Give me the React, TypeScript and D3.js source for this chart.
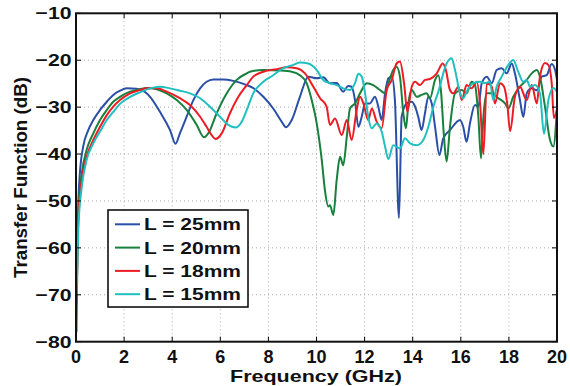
import * as d3 from "d3";

// frequency (GHz), transfer function (dB)
const L25: [number, number][] = [
  [0.02, -66], [0.1, -49.8], [0.17, -43.4], [0.3, -38.4], [0.51, -34.9], [0.72, -32.75], [1.0, -30.6],
  [1.28, -28.85], [1.55, -27.4], [1.83, -26.5], [2.11, -26.0], [2.52, -26.1], [2.66, -26.2], [3.08, -27.8],
  [3.49, -31.0], [3.91, -34.9], [4.14, -37.8], [4.32, -35.6], [4.6, -32.05], [4.88, -28.5], [5.16, -26.0],
  [5.43, -24.6], [5.71, -24.1], [6.12, -24.1], [6.54, -24.4], [7.1, -25.3], [7.32, -25.8], [7.79, -27.8],
  [8.2, -30.3], [8.55, -33.1], [8.73, -34.3], [8.97, -32.75], [9.31, -27.8], [9.66, -23.5], [10.01, -23.86],
  [10.28, -23.65], [10.56, -24.9], [10.84, -24.86], [11.11, -26.7], [11.32, -25.5], [11.46, -25.65],
  [11.6, -28.5], [11.74, -34.2], [11.88, -32.05], [12.02, -29.2], [12.22, -29.2], [12.43, -27.8],
  [12.57, -29.9], [12.71, -32.75], [12.85, -27.06], [12.99, -23.86], [13.13, -23.5], [13.26, -28.5],
  [13.43, -53.65], [13.54, -32.05], [13.75, -29.2], [13.96, -28.85], [14.1, -29.9], [14.23, -32.05],
  [14.37, -34.9], [14.51, -31.3], [14.65, -27.8], [14.79, -29.2], [14.93, -34.2], [15.11, -40.2],
  [15.27, -36.65], [15.55, -34.9], [15.97, -32.75], [16.1, -34.2], [16.24, -37.4], [16.38, -33.5],
  [16.59, -29.55], [16.73, -29.9], [16.87, -24.9], [17.08, -23.5], [17.29, -24.9], [17.49, -22.1],
  [17.7, -21.7], [17.91, -22.8], [18.12, -20.7], [18.25, -22.8], [18.46, -28.5], [18.6, -32.1],
  [18.74, -27.06], [18.95, -26.0], [19.16, -26.4], [19.36, -23.5], [19.57, -23.2], [19.78, -20.8],
  [19.92, -22.1], [20.0, -24.2],
];

const L20: [number, number][] = [
  [0.02, -78], [0.1, -51.9], [0.24, -44.1], [0.44, -39.15], [0.72, -35.6], [1.0, -32.75], [1.28, -30.6],
  [1.55, -28.85], [1.83, -27.8], [2.25, -26.7], [2.66, -26.2], [2.94, -25.9], [3.36, -26.2], [3.77, -27.06],
  [4.19, -28.5], [4.6, -30.6], [5.02, -33.8], [5.32, -36.4], [5.5, -35.6], [5.85, -31.3], [6.27, -27.06],
  [6.68, -24.2], [7.1, -22.8], [7.23, -22.45], [7.79, -22.1], [8.48, -22.2], [8.97, -22.45], [9.31, -23.2],
  [9.59, -24.9], [9.8, -28.5], [10.01, -33.5], [10.22, -41.3], [10.35, -47.7], [10.49, -51.2],
  [10.56, -50.9], [10.7, -53.0], [10.84, -45.5], [10.98, -40.6], [11.11, -42.4], [11.26, -36.3],
  [11.39, -30.3], [11.6, -29.2], [11.81, -27.06], [12.09, -24.9], [12.36, -25.3], [12.64, -26.35],
  [12.85, -27.06], [12.99, -24.9], [13.19, -22.1], [13.33, -21.4], [13.47, -23.5], [13.61, -31.3],
  [13.72, -34.5], [13.82, -29.2], [13.96, -26.35], [14.17, -27.8], [14.37, -27.4], [14.58, -27.06],
  [14.72, -28.1], [14.93, -24.2], [15.06, -23.2], [15.18, -26.8], [15.3, -36.3], [15.41, -41.6],
  [15.55, -34.2], [15.76, -27.06], [16.04, -26.35], [16.24, -27.06], [16.45, -24.6], [16.59, -25.3],
  [16.73, -32.05], [16.84, -40.9], [16.94, -32.05], [17.08, -27.06], [17.29, -27.06], [17.56, -28.1],
  [17.84, -29.2], [17.98, -30.3], [18.18, -27.8], [18.46, -25.65], [18.74, -24.2], [18.95, -22.8],
  [19.16, -22.1], [19.29, -23.5], [19.5, -29.9], [19.71, -37.0], [19.85, -38.4], [20.0, -30.0],
];

const L18: [number, number][] = [
  [0.02, -72], [0.1, -53.4], [0.24, -45.5], [0.44, -40.6], [0.72, -37.0], [1.0, -34.2], [1.28, -31.7],
  [1.55, -29.9], [1.83, -28.5], [2.25, -27.06], [2.66, -26.35], [2.94, -26.0], [3.36, -26.0], [3.77, -26.7],
  [4.32, -28.1], [4.74, -29.55], [5.16, -32.05], [5.43, -34.2], [5.64, -35.95], [5.8, -36.8], [6.06, -35.6],
  [6.4, -31.3], [6.75, -27.8], [7.1, -25.3], [7.37, -23.5], [7.79, -22.45], [8.35, -21.9], [8.76, -21.5],
  [9.18, -21.7], [9.52, -22.8], [9.87, -25.65], [10.15, -28.1], [10.42, -29.9], [10.56, -33.8],
  [10.77, -32.4], [11.05, -35.95], [11.26, -32.75], [11.46, -37.0], [11.67, -30.6], [11.81, -27.8],
  [11.95, -29.2], [12.15, -32.75], [12.3, -30.3], [12.5, -33.1], [12.71, -34.5], [12.92, -26.35],
  [13.13, -24.2], [13.33, -20.7], [13.47, -20.3], [13.64, -24.9], [13.78, -31.0], [13.96, -25.65],
  [14.1, -24.6], [14.3, -25.3], [14.51, -24.2], [14.72, -24.0], [15.0, -22.8], [15.25, -20.7],
  [15.38, -22.1], [15.55, -26.35], [15.69, -27.06], [15.9, -25.65], [16.04, -28.5], [16.24, -25.3],
  [16.45, -26.0], [16.66, -24.6], [16.8, -29.2], [16.94, -40.0], [17.08, -24.9], [17.29, -25.65],
  [17.42, -29.2], [17.63, -24.9], [17.8, -25.65], [17.93, -29.2], [18.05, -35.1], [18.25, -27.8],
  [18.46, -25.65], [18.74, -28.5], [18.95, -25.3], [19.16, -29.2], [19.29, -23.5], [19.5, -20.6],
  [19.64, -21.0], [19.78, -24.9], [19.87, -32.3], [20.0, -30.6],
];

const L15: [number, number][] = [
  [0.02, -70], [0.1, -55.5], [0.24, -47.0], [0.44, -41.3], [0.72, -37.7], [1.0, -35.2], [1.28, -32.75],
  [1.55, -31.0], [1.83, -29.3], [2.25, -27.8], [2.66, -26.85], [3.08, -26.0], [3.49, -25.65], [3.91, -26.0],
  [4.32, -26.5], [4.74, -27.06], [5.16, -28.1], [5.57, -29.9], [5.99, -32.05], [6.33, -33.8],
  [6.63, -34.35], [6.89, -33.1], [7.1, -30.6], [7.37, -27.06], [7.79, -24.6], [8.2, -23.2], [8.62, -21.7],
  [9.04, -21.0], [9.31, -20.5], [9.66, -20.7], [10.01, -22.1], [10.28, -24.2], [10.56, -24.9],
  [10.84, -25.3], [11.11, -26.0], [11.39, -26.35], [11.6, -24.9], [11.74, -22.9], [11.88, -23.5],
  [12.02, -27.06], [12.15, -32.05], [12.3, -34.5], [12.5, -33.5], [12.71, -35.2], [12.85, -38.4],
  [12.99, -41.07], [13.19, -38.1], [13.47, -38.8], [13.68, -36.65], [13.89, -37.7], [14.17, -38.1],
  [14.44, -37.0], [14.65, -34.2], [14.86, -29.9], [15.06, -26.8], [15.41, -20.7], [15.62, -19.6],
  [15.76, -22.1], [15.97, -27.06], [16.1, -28.1], [16.24, -26.7], [16.52, -24.9], [16.8, -24.6],
  [17.0, -24.9], [17.21, -24.6], [17.35, -28.5], [17.49, -25.65], [17.7, -23.5], [17.98, -21.0],
  [18.18, -19.96], [18.39, -22.5], [18.6, -24.6], [18.74, -24.2], [18.88, -25.65], [19.09, -25.3],
  [19.29, -27.06], [19.46, -35.7], [19.64, -28.5], [19.85, -25.9], [20.0, -26.8],
];

const seriesNames = ["L = 25mm", "L = 20mm", "L = 18mm", "L = 15mm"];
const seriesData = [L25, L20, L18, L15];
const seriesColors = ["#2b4ea6", "#16803c", "#ec1c24", "#20bfc0"];
const xTicks = [0, 2, 4, 6, 8, 10, 12, 14, 16, 18, 20];
const yTicks = [-80, -70, -60, -50, -40, -30, -20, -10];

const W = 570;
const H = 386;
const left = 76;
const right = 557;
const top = 13.3;
const bottom = 341.7;

export default function App() {
  const x = d3.scaleLinear().domain([0, 20]).range([left, right]);
  const y = d3.scaleLinear().domain([-80, -10]).range([bottom, top]);
  const line = d3
    .line<[number, number]>()
    .x((d) => x(d[0]))
    .y((d) => y(d[1]))
    .curve(d3.curveMonotoneX);

  const font = "'Liberation Sans', Arial, Helvetica, sans-serif";
  const tickLen = 5;

  return (
    <svg
      width={W}
      height={H}
      style={{ position: "absolute", left: 0, top: 0, background: "#fff" }}
      fontFamily={font}
      fontWeight="bold"
    >
      <rect width={W} height={H} fill="#fff" />
      {/* grid */}
      <g stroke="#a8a8a8" strokeWidth={1} strokeDasharray="1,3">
        {xTicks.slice(1, -1).map((t) => (
          <line key={"gx" + t} x1={x(t)} x2={x(t)} y1={top} y2={bottom} />
        ))}
        {yTicks.slice(1, -1).map((t) => (
          <line key={"gy" + t} x1={left} x2={right} y1={y(t)} y2={y(t)} />
        ))}
      </g>

      {/* curves */}
      <defs>
        <clipPath id="plotclip">
          <rect x={left} y={top} width={right - left} height={bottom - top} />
        </clipPath>
      </defs>
      <g clipPath="url(#plotclip)" fill="none" strokeWidth={2} strokeLinejoin="round">
        {seriesData.map((d, i) => (
          <path key={i} d={line(d) ?? ""} stroke={seriesColors[i]} />
        ))}
      </g>

      {/* ticks */}
      <g stroke="#000" strokeWidth={1}>
        {xTicks.map((t) => (
          <g key={"tx" + t}>
            <line x1={x(t)} x2={x(t)} y1={bottom} y2={bottom - tickLen} />
            <line x1={x(t)} x2={x(t)} y1={top} y2={top + tickLen} />
          </g>
        ))}
        {yTicks.map((t) => (
          <g key={"ty" + t}>
            <line x1={left} x2={left + tickLen} y1={y(t)} y2={y(t)} />
            <line x1={right} x2={right - tickLen} y1={y(t)} y2={y(t)} />
          </g>
        ))}
      </g>
      <rect
        x={left}
        y={top}
        width={right - left}
        height={bottom - top}
        fill="none"
        stroke="#111"
        strokeWidth={2}
      />

      {/* tick labels */}
      <g fontSize={17} fill="#111">
        {yTicks.map((t) => (
          <text
            key={"ly" + t}
            x={71.5}
            y={y(t)}
            dy="0.36em"
            textAnchor="end"
            textLength={36}
            lengthAdjust="spacingAndGlyphs"
          >
            {"\u2212" + Math.abs(t)}
          </text>
        ))}
        {xTicks.map((t) => (
          <text key={"lx" + t} x={x(t)} y={362.5} textAnchor="middle" fontSize={18}>
            {t}
          </text>
        ))}
      </g>

      {/* axis labels */}
      <text
        x={316}
        y={382}
        textAnchor="middle"
        fontSize={17}
        fill="#111"
        textLength={172}
        lengthAdjust="spacingAndGlyphs"
      >
        Frequency (GHz)
      </text>
      <text
        transform={`translate(27, ${(top + bottom) / 2}) rotate(-90)`}
        textAnchor="middle"
        fontSize={18}
        fill="#111"
        textLength={201}
        lengthAdjust="spacingAndGlyphs"
      >
        Transfer Function (dB)
      </text>

      {/* legend */}
      <g>
        <rect x={108} y={210} width={140} height={97} fill="#fff" stroke="#000" strokeWidth={1.5} />
        {seriesNames.map((name, i) => {
          const ly = 224.3 + i * 23.3;
          return (
            <g key={name}>
              <line x1={115} x2={140} y1={ly} y2={ly} stroke={seriesColors[i]} strokeWidth={2} />
              <text
                x={144}
                y={ly}
                dy="0.36em"
                fontSize={17}
                fill="#111"
                textLength={97}
                lengthAdjust="spacingAndGlyphs"
              >
                {name}
              </text>
            </g>
          );
        })}
      </g>
    </svg>
  );
}
